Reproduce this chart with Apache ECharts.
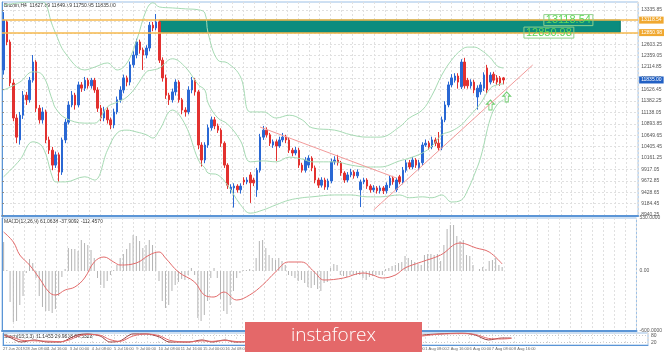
<!DOCTYPE html>
<html>
<head>
<meta charset="utf-8">
<script src="https://cdn.jsdelivr.net/npm/echarts@6/dist/echarts.min.js"></script>
<style>
  html, body { margin: 0; padding: 0; background: #fff; }
  #chart { width: 665px; height: 352px; }
</style>
</head>
<body>
<div id="chart"></div>
<script>
// Bitcoin H4 - price with bollinger bands, MACD and stochastic

const SLOTS = 196

// [open, close, low, high]
const ohlc = [
  [12050, 13120, 11950, 13290], [13080, 12650, 12580, 13120], [12650, 11770, 11700, 12700], [11770, 11020, 10950, 11850],
  [11020, 10610, 10480, 11100], [10550, 11080, 10450, 11150], [11080, 11510, 11000, 11600], [11510, 11410, 11300, 11580],
  [11410, 11830, 11350, 11900], [11830, 12220, 11780, 12370], [12220, 11230, 11150, 12260], [11230, 10980, 10900, 11300],
  [10980, 11150, 10900, 11250], [11150, 10550, 10480, 11200], [10550, 10330, 10250, 10620], [10330, 10010, 9900, 10400],
  [10010, 10230, 9950, 10300], [10230, 9860, 9650, 10280], [9860, 10550, 9800, 10600], [10550, 10930, 10480, 11000],
  [10930, 11300, 10880, 11380], [11300, 11510, 11250, 11600], [11510, 11300, 11200, 11560], [11300, 11730, 11250, 11800],
  [11730, 11660, 11580, 11790], [11660, 11830, 11600, 11900], [11830, 11710, 11650, 11880], [11710, 11830, 11650, 11880],
  [11830, 11620, 11560, 11880], [11620, 11230, 11150, 11680], [11230, 11020, 10950, 11300], [11020, 11190, 10950, 11260],
  [11190, 10980, 10900, 11250], [10980, 10870, 10780, 11030], [10870, 11150, 10800, 11220], [11150, 11410, 11100, 11480],
  [11410, 11620, 11350, 11700], [11620, 11880, 11550, 11950], [11880, 11790, 11700, 11930], [11790, 12160, 11720, 12230],
  [12160, 12370, 12100, 12450], [12370, 12650, 12300, 12720], [12650, 12480, 12400, 12700], [12480, 12370, 12050, 12530],
  [12370, 12520, 12300, 12580], [12520, 13010, 12450, 13080], [13010, 12950, 12880, 13080], [12950, 13080, 12900, 13250],
  [13080, 12260, 12200, 13120], [12260, 11880, 11800, 12320], [11880, 11510, 11430, 11950], [11510, 11410, 11300, 11560],
  [11410, 11580, 11350, 11650], [11580, 11790, 11500, 11850], [11790, 11410, 11350, 11830], [11410, 11190, 11100, 11450],
  [11190, 11150, 11050, 11250], [11150, 11620, 11100, 11700], [11620, 11830, 11550, 11900], [11830, 11580, 11500, 11880],
  [11580, 10440, 10350, 11620], [10440, 10120, 9980, 10500], [10120, 10440, 10050, 10500], [10440, 10810, 10380, 10880],
  [10810, 10980, 10750, 11050], [10980, 10850, 10780, 11040], [10850, 10760, 10700, 10900], [10760, 10480, 10400, 10800],
  [10480, 10010, 9950, 10520], [10010, 9580, 9500, 10050], [9480, 9540, 9400, 9600], [9520, 9560, 9100, 9620],
  [9560, 9480, 9420, 9600], [9480, 9560, 9400, 9620], [9690, 9650, 9580, 9750], [9650, 9690, 9600, 9750],
  [9800, 9630, 9200, 9860], [9690, 9630, 9560, 9740], [9480, 9900, 9330, 9950], [9900, 10610, 9850, 10680],
  [10610, 10760, 10550, 10850], [10760, 10660, 10600, 10820], [10660, 10480, 10420, 10700], [10440, 10510, 10380, 10560],
  [10510, 10420, 10100, 10560], [10420, 10550, 10380, 10620], [10550, 10610, 10500, 10700], [10610, 10550, 10480, 10660],
  [10550, 10330, 10270, 10600], [10330, 10270, 10200, 10380], [10270, 10330, 10220, 10400], [10330, 10010, 9950, 10380],
  [10010, 9900, 9850, 10060], [9900, 10120, 9850, 10180], [10010, 10160, 9950, 10220], [10160, 9950, 9880, 10200],
  [9950, 9690, 9620, 10000], [9690, 9580, 9520, 9740], [9580, 9690, 9530, 9750], [9690, 9540, 9480, 9740],
  [9540, 9670, 9480, 9720], [9670, 10080, 9620, 10150], [10080, 10120, 10020, 10200], [10120, 10060, 10000, 10230],
  [10060, 9840, 9780, 10100], [9840, 9690, 9630, 9880], [9690, 9800, 9640, 9860], [9800, 9860, 9750, 9930],
  [9860, 9780, 9720, 9900], [9780, 9860, 9730, 9920], [9480, 9650, 9110, 9700], [9650, 9690, 9600, 9740],
  [9690, 9560, 9500, 9730], [9560, 9480, 9420, 9600], [9480, 9520, 9430, 9580], [9520, 9460, 9400, 9560],
  [9460, 9520, 9400, 9570], [9520, 9460, 9390, 9560], [9460, 9580, 9400, 9640], [9580, 9730, 9520, 9780],
  [9730, 9650, 9590, 9780], [9480, 9690, 9430, 9740], [9760, 9650, 9600, 9800], [9650, 9900, 9600, 9970],
  [9900, 10060, 9850, 10120], [10060, 9970, 9920, 10120], [9970, 10120, 9920, 10180], [10120, 10010, 9950, 10160],
  [9950, 10060, 9900, 10120], [10060, 10440, 10000, 10500], [10440, 10480, 10400, 10560], [10480, 10400, 10340, 10530],
  [10400, 10550, 10350, 10620], [10550, 10480, 10420, 10600], [10480, 10380, 10320, 10720], [10380, 10980, 10330, 11050],
  [10980, 11300, 10930, 11380], [11300, 11730, 11250, 11800], [11730, 11880, 11680, 11960], [11830, 11920, 11780, 11980],
  [11920, 11790, 11650, 11980], [11690, 12220, 11640, 12280], [12220, 11710, 11650, 12310], [11830, 11710, 11650, 11880],
  [11710, 11790, 11650, 11850], [11790, 11620, 11550, 11840], [11470, 11660, 11200, 11720], [11580, 11730, 11520, 11790],
  [11660, 11940, 11600, 12000], [12090, 11620, 11550, 12160], [11790, 11940, 11740, 12000], [11960, 11830, 11770, 12010],
  [11880, 11790, 11730, 11940], [11880, 11770, 11710, 11920], [11880, 11835, 11740, 11900]
]

// bollinger bands, sampled at bar indices
const bandIdx = [0, 5, 9, 12, 15, 16, 19, 25, 28, 32, 35, 38, 41, 44, 46, 48, 52, 56, 60, 62, 63, 66, 69, 73, 76, 80, 84, 88, 92, 95, 102, 107, 112, 116, 122, 125, 129, 132, 135, 138, 141, 143, 145, 147, 150, 152, 154]
const bandUpper = [13440, 13490, 13510, 13510, 13010, 12840, 12410, 12050, 12110, 12200, 12050, 12200, 12690, 13340, 13490, 13400, 13380, 13360, 13340, 13270, 12840, 12260, 12200, 11900, 11150, 11150, 11020, 11080, 10980, 10810, 10760, 10660, 10610, 10610, 10830, 11020, 11190, 11510, 11940, 12260, 12480, 12540, 12540, 12480, 12310, 12140, 12090]
const bandMid = [11620, 11790, 12010, 11940, 11410, 11230, 11020, 10910, 10910, 11260, 11360, 11470, 11710, 12010, 12050, 12090, 12290, 12110, 11730, 11620, 11340, 11020, 10890, 10530, 10080, 10100, 10080, 10180, 10140, 10080, 10080, 10010, 9970, 9970, 10100, 10160, 10270, 10420, 10660, 10740, 10870, 11020, 11170, 11340, 11660, 11730, 11750]
const bandLower = [9760, 10120, 10510, 10400, 9760, 9650, 9650, 9760, 9690, 10330, 10700, 10760, 10720, 10660, 10590, 10760, 11190, 10870, 10120, 9950, 9840, 9800, 9580, 9160, 8980, 9050, 9160, 9260, 9310, 9330, 9370, 9370, 9330, 9330, 9370, 9310, 9330, 9310, 9370, 9220, 9260, 9480, 9800, 10180, 11020, 11300, 11410]

// trend lines [barIndex, price]
const trendDown = [[79, 10827], [121, 9734]]
const trendUp = [[114, 9048], [163, 12156]]
const arrows = [[150, 11299], [155, 11470]]

// resistance zone
const zoneTop = 13118.54
const zoneBottom = 12850.98
const zoneFrom = 48
const zoneTo = 190
const lastPrice = 11835.0

const priceTicks = [13335.85, 13091.65, 12847.45, 12603.25, 12359.05, 12114.85, 11870.65, 11626.45, 11382.25, 11138.05, 10893.85, 10649.65, 10405.45, 10161.25, 9917.05, 9672.85, 9428.65, 9184.45, 8940.25]

// MACD
const macdHist = [
  290, 10, -310, -510, -500, -340, -250, -20, 120, 80,
  -70, -250, -360, -400, -400, -420, -380, -250, -60, 20,
  230, 220, 220, 200, 310, 280, 260, 210, 130, -70,
  -140, -170, -100, -40, 10, 60, 130, 170, 220, 280,
  360, 350, 300, 230, 260, 310, 260, 190, -100, -300,
  -370, -340, -200, -140, -110, -80, -90, -40, 30, -40,
  -470, -500, -440, -300, -70, 30, -70, -280, -400, -430,
  -340, -200, -70, -20, 10, 10, 20, 10, 130, 300,
  310, 230, 160, 130, 110, 130, 100, 60, -40, -50,
  -70, -100, -90, -120, -160, -170, -140, -180, -200, -120,
  -110, 30, 70, 60, -40, -50, -60, -40, -40, -40,
  -40, -70, -90, -60, -50, -40, -40, -40, 20, 30,
  50, 60, 80, 90, 150, 130, 110, 90, 70, 60,
  160, 170, 170, 160, 170, 100, 260, 420, 460, 460,
  350, 300, 310, 160, 150, 60, 0, 20, 40, 20,
  100, 110, 130, 60, 40
]
const sigIdx = [0, 3, 5, 8, 11, 14, 16, 19, 22, 25, 28, 31, 34, 36, 41, 45, 48, 50, 54, 59, 62, 65, 68, 72, 76, 80, 84, 88, 92, 96, 99, 105, 111, 114, 117, 121, 124, 129, 135, 141, 146, 150, 154]
const sigVal = [390, 290, 160, 60, -70, -210, -240, -190, -160, -70, 90, 140, 90, 60, 80, 160, 190, 130, -10, -110, -240, -260, -210, -290, -240, -140, -10, 90, 90, -10, -90, -70, -20, -40, -70, -40, 30, 90, 160, 280, 230, 190, 70]
const macdTicks = [530, 0, -600]

// stochastic
const stIdx = [0, 2, 5, 9, 13, 17, 20, 22, 25, 29, 32, 35, 39, 43, 47, 50, 53, 56, 60, 63, 67, 70, 72, 80, 90, 100, 110, 120, 127, 132, 139, 143, 147, 151, 154]
const stMain = [83, 58, 25, 42, 25, 25, 58, 83, 92, 75, 25, 33, 92, 92, 67, 25, 25, 25, 42, 25, 42, 25, 25, 50, 40, 60, 30, 50, 83, 92, 100, 83, 42, 58, 58]
const stSignal = [75, 70, 40, 35, 32, 28, 45, 70, 88, 82, 45, 30, 75, 92, 78, 40, 28, 25, 35, 30, 38, 30, 27, 45, 42, 55, 38, 45, 75, 90, 95, 88, 55, 50, 55]
const stTicks = [80, 20]

const dateLabels = ['27 Jun 2019', '28 Jun 08:00', '1 Jul 16:00', '3 Jul 00:00', '4 Jul 08:00', '5 Jul 16:00', '9 Jul 00:00', '10 Jul 08:00',
  '11 Jul 16:00', '15 Jul 00:00', '16 Jul 08:00', '17 Jul 16:00', '19 Jul 00:00', '22 Jul 08:00', '23 Jul 16:00', '25 Jul 00:00',
  '26 Jul 08:00', '29 Jul 16:00', '31 Jul 00:00', '1 Aug 08:00', '2 Aug 16:00', '6 Aug 00:00', '7 Aug 08:00', '8 Aug 16:00']

const cats = Array.from({ length: SLOTS }, (_, i) => String(i))
const pairs = (idx, vals) => idx.map((x, k) => [x, vals[k]])

const BLUE_LINE = '#5b95d6'
const GRID_LINE = { color: '#e0e0e0', width: 1, type: [2, 2] }
const SMALL = { fontSize: 5, color: '#555', fontFamily: 'Liberation Sans' }

const grids = [
  { left: 2, right: 17, top: 2, height: 214 },
  { left: 2, right: 17, top: 218, height: 113 },
  { left: 2, right: 17, top: 333, height: 12 }
]

function catAxis(g) {
  return { type: 'category', gridIndex: g, data: cats, boundaryGap: true, show: false }
}
function lineAxis(g, lineWidth, labels) {
  return {
    type: 'value', gridIndex: g, min: 0, max: 58.06, interval: 1, position: 'bottom',
    axisLine: { show: true, lineStyle: { color: BLUE_LINE, width: lineWidth } },
    axisTick: { show: false },
    splitLine: { show: true, lineStyle: GRID_LINE },
    axisLabel: labels ? {
      show: true, fontSize: 4, color: '#666', fontFamily: 'Liberation Sans', margin: 2, align: 'left', showMaxLabel: false,
      formatter: v => (v % 2 === 0 && dateLabels[v / 2]) ? dateLabels[v / 2] : ''
    } : { show: false }
  }
}

const chart = echarts.init(document.getElementById('chart'), null, { renderer: 'canvas' })

chart.setOption({
  animation: false,
  backgroundColor: '#ffffff',
  grid: grids.map(g => ({ ...g, show: true, borderColor: '#9cc0e6', borderWidth: 1 })),
  xAxis: [
    catAxis(0), lineAxis(0, 2, false),
    catAxis(1), lineAxis(1, 2, false),
    catAxis(2), lineAxis(2, 1, true)
  ],
  yAxis: [
    {
      type: 'value', gridIndex: 0, position: 'right', min: 8919, max: 13507, scale: true,
      axisLine: { show: true, lineStyle: { color: BLUE_LINE, width: 1 } },
      axisTick: { show: true, length: 2, customValues: priceTicks, lineStyle: { color: '#888' } },
      axisLabel: { ...SMALL, margin: 3, customValues: priceTicks, formatter: v => v.toFixed(2) },
      splitLine: { show: true, lineStyle: GRID_LINE }
    },
    {
      type: 'value', gridIndex: 1, position: 'right', min: -600, max: 530,
      axisLine: { show: true, lineStyle: { color: BLUE_LINE, width: 1 } },
      axisTick: { show: false, customValues: macdTicks },
      axisLabel: { ...SMALL, margin: 3, customValues: macdTicks, formatter: v => v === 0 ? '0.00' : v.toFixed(4) },
      splitLine: { show: false }
    },
    {
      type: 'value', gridIndex: 2, position: 'right', min: 0, max: 100,
      axisLine: { show: true, lineStyle: { color: BLUE_LINE, width: 1 } },
      axisTick: { show: false, customValues: stTicks },
      axisLabel: { ...SMALL, margin: 3, customValues: stTicks },
      splitLine: { show: true, lineStyle: { color: '#c8c8c8', type: [1, 2] } }
    }
  ],
  series: [
    {
      name: 'Bitcoin', type: 'candlestick', xAxisIndex: 0, yAxisIndex: 0,
      data: ohlc, barWidth: 2,
      itemStyle: { color: '#2a68d4', color0: '#e2312f', borderColor: '#2a68d4', borderColor0: '#e2312f', borderWidth: 1 },
      markArea: {
        silent: true,
        itemStyle: { color: '#0b8c7e', borderColor: '#0a7a6e', borderWidth: 1 },
        data: [[{ coord: [zoneFrom, zoneTop] }, { coord: [zoneTo, zoneBottom] }]]
      },
      markLine: {
        silent: true, symbol: ['none', 'none'], precision: 2,
        data: [
          { yAxis: zoneTop, lineStyle: { color: '#f6b94c', width: 1.5, type: 'solid' },
            label: { position: 'end', distance: 1, fontSize: 5, color: '#fff', backgroundColor: '#f0a830', padding: [1, 2], formatter: p => p.value.toFixed(2) } },
          { yAxis: zoneBottom, lineStyle: { color: '#f6b94c', width: 1.5, type: 'solid' },
            label: { position: 'end', distance: 1, fontSize: 5, color: '#fff', backgroundColor: '#f0a830', padding: [1, 2], formatter: p => p.value.toFixed(2) } },
          { yAxis: lastPrice, lineStyle: { color: 'rgba(0,0,0,0)', width: 0 },
            label: { position: 'end', distance: 1, fontSize: 5, color: '#fff', backgroundColor: '#2160c4', padding: [1, 2], formatter: p => p.value.toFixed(2) } }
        ]
      },
      markPoint: {
        silent: true, symbol: 'rect', symbolSize: 1, itemStyle: { color: 'rgba(0,0,0,0)' },
        label: {
          show: true, position: 'inside', fontSize: 11, color: '#5fd65a', fontFamily: 'Liberation Sans',
          borderColor: '#8fd08a', borderWidth: 1, padding: [0, 2], formatter: p => p.value.toFixed(2)
        },
        data: [
          { coord: [174, zoneTop], value: zoneTop },
          { coord: [168, zoneBottom], value: zoneBottom }
        ]
      }
    },
    { name: 'BB upper', type: 'line', xAxisIndex: 0, yAxisIndex: 0, data: pairs(bandIdx, bandUpper), showSymbol: false, smooth: 0.4, lineStyle: { color: '#a6dab3', width: 1 } },
    { name: 'BB mid', type: 'line', xAxisIndex: 0, yAxisIndex: 0, data: pairs(bandIdx, bandMid), showSymbol: false, smooth: 0.4, lineStyle: { color: '#a6dab3', width: 1 } },
    { name: 'BB lower', type: 'line', xAxisIndex: 0, yAxisIndex: 0, data: pairs(bandIdx, bandLower), showSymbol: false, smooth: 0.4, lineStyle: { color: '#a6dab3', width: 1 } },
    { name: 'trend down', type: 'line', xAxisIndex: 0, yAxisIndex: 0, data: trendDown, showSymbol: false, lineStyle: { color: '#f29a9a', width: 1 } },
    { name: 'trend up', type: 'line', xAxisIndex: 0, yAxisIndex: 0, data: trendUp, showSymbol: false, lineStyle: { color: '#f29a9a', width: 1 } },
    {
      name: 'arrows', type: 'scatter', xAxisIndex: 0, yAxisIndex: 0, data: arrows,
      symbol: 'path://M5,0 L10,5 L7,5 L7,12 L3,12 L3,5 L0,5 Z', symbolSize: [8, 10],
      itemStyle: { color: 'rgba(255,255,255,0)', borderColor: '#4cbf4c', borderWidth: 1 }
    },
    {
      name: 'MACD', type: 'bar', xAxisIndex: 2, yAxisIndex: 1, data: macdHist, barWidth: 1,
      itemStyle: { color: '#b4b4b4' }
    },
    { name: 'Signal', type: 'line', xAxisIndex: 2, yAxisIndex: 1, data: pairs(sigIdx, sigVal), showSymbol: false, smooth: 0.4, lineStyle: { color: '#e36b6b', width: 1 } },
    { name: 'Stoch main', type: 'line', xAxisIndex: 4, yAxisIndex: 2, data: pairs(stIdx, stMain), showSymbol: false, smooth: 0.3, lineStyle: { color: '#9b3d3d', width: 1 } },
    { name: 'Stoch signal', type: 'line', xAxisIndex: 4, yAxisIndex: 2, data: pairs(stIdx, stSignal), showSymbol: false, smooth: 0.3, lineStyle: { color: '#e36b6b', width: 1 } }
  ],
  graphic: [
    { type: 'text', left: 4, top: 3, style: { text: 'Bitcoin,H4  11827.89 11849.19 11750.95 11835.00', font: '5px Liberation Sans', fill: '#333' } },
    { type: 'text', left: 4, top: 219, style: { text: 'MACD(12,26,9) 61.0638 -37.9092 -112.4570', font: '5px Liberation Sans', fill: '#333' } },
    { type: 'text', left: 4, top: 334, style: { text: 'Stoch(13,3,3) 31.1455 29.9838 64.5328', font: '5px Liberation Sans', fill: '#333' } },
    { type: 'rect', left: 245, top: 322, shape: { width: 177, height: 30 }, style: { fill: '#e46869' }, z: 100 },
    { type: 'text', left: 291, top: 326, style: { text: 'instaforex', font: '300 19px "Open Sans"', fill: '#ffffff' }, z: 101 }
  ]
})
</script>
</body>
</html>
